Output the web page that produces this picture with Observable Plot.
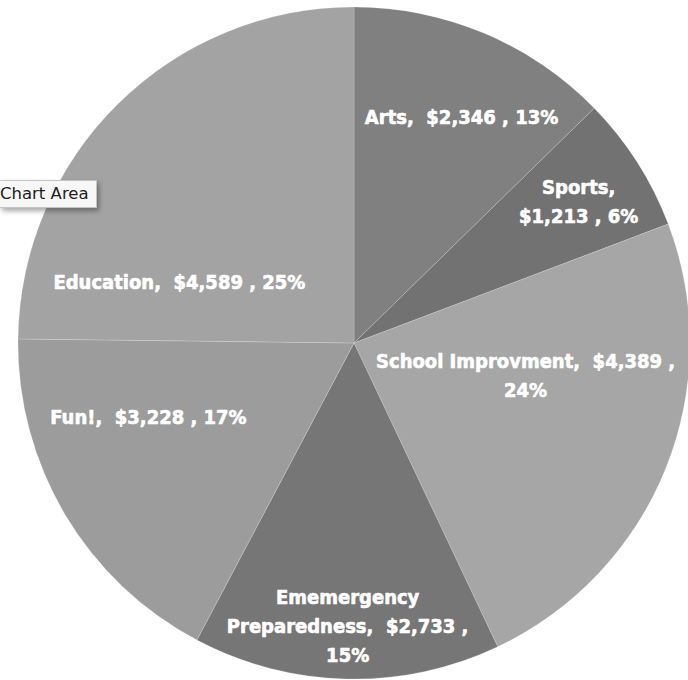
<!DOCTYPE html>
<html><head><meta charset="utf-8">
<script src="https://cdn.jsdelivr.net/npm/d3@7"></script>
<script src="https://cdn.jsdelivr.net/npm/@observablehq/plot@0.6"></script>
<style>
html,body{margin:0;padding:0;background:#fff;}
#wrap{position:relative;width:688px;height:680px;overflow:hidden;}
#chart svg text{white-space:pre;}
#tip{position:absolute;left:0;top:180px;width:96px;height:26px;background:#f7f7f7;border:1px solid #c4c4c4;border-left:none;box-shadow:2px 3px 5px rgba(0,0,0,0.35);overflow:hidden;font-family:"DejaVu Sans",sans-serif;font-size:16.5px;line-height:26px;color:#222;white-space:nowrap;}
#tip span{display:inline-block;margin-left:0;}
</style></head><body>
<div id="wrap"><div id="chart"></div><div id="tip"><span>Chart Area</span></div></div>
<script>
// ---- data ----
const categories = ["Arts", "Sports", "School Improvment", "Ememergency Preparedness", "Fun!", "Education"];
const amounts = [2346, 1213, 4389, 2733, 3228, 4589];
const percents = [13, 6, 24, 15, 17, 25];
const sliceColors = ["#808080", "#727272", "#a6a6a6", "#767676", "#9c9c9c", "#a3a3a3"];

// ---- layout ----
const W = 688, H = 680, CX = 354, CY = 343, R = 336;
// label placement (angle in degrees clockwise from 12 o'clock, radius as a fraction of R)
const labelAngle = [25.1, 57.3, 100, 181.4, 250.9, 290.1];
const labelRadius = [0.751, 0.793, 0.517, 0.834, 0.649, 0.555];
// where each label wraps: "none", "afterName", "beforePct", "splitName"
const labelWrap = ["none", "afterName", "beforePct", "splitName", "none", "none"];

const fmt = d3.format(",");
const rows = categories.map((name, i) => {
  const money = "$" + fmt(amounts[i]);
  let text;
  switch (labelWrap[i]) {
    case "afterName": text = `${name},\n${money} , ${percents[i]}%`; break;
    case "beforePct": text = `${name},  ${money} ,\n${percents[i]}%`; break;
    case "splitName": text = `${name.replace(" ", "\n")},  ${money} ,\n${percents[i]}%`; break;
    default: text = `${name},  ${money} , ${percents[i]}%`;
  }
  const a = labelAngle[i] * Math.PI / 180;
  return {name, amount: amounts[i], color: sliceColors[i], text,
          lx: labelRadius[i] * Math.sin(a), ly: labelRadius[i] * Math.cos(a)};
});

const arcs = d3.pie().sort(null).value(d => d.amount)(rows);

function pieMark(index, scales) {
  const {x, y} = scales;
  const r = x(1) - x(0);
  const arc = d3.arc().innerRadius(0).outerRadius(r);
  const g = d3.create("svg:g").attr("transform", `translate(${x(0)},${y(0)})`);
  g.selectAll("path").data(arcs).join("path")
    .attr("d", arc)
    .attr("fill", d => d.data.color)
    .attr("stroke", "rgba(255,255,255,0.22)")
    .attr("stroke-width", 0.8)
    .attr("stroke-linejoin", "round");
  return g.node();
}

const chart = Plot.plot({
  width: W, height: H,
  margin: 0,
  x: {domain: [-CX / R, (W - CX) / R], axis: null},
  y: {domain: [-(H - CY) / R, CY / R], axis: null},
  style: {background: "#fff", overflow: "visible"},
  marks: [
    pieMark,
    Plot.text(rows, {
      x: "lx", y: "ly", text: "text",
      fill: "#fff", stroke: "#fff", strokeWidth: 0.6,
      fontSize: 20, fontWeight: "bold",
      fontFamily: "'DejaVu Sans Condensed', 'DejaVu Sans', sans-serif",
      lineHeight: 1.45, lineAnchor: "middle", textAnchor: "middle"
    })
  ]
});
document.getElementById("chart").appendChild(chart);
</script>
</body></html>
